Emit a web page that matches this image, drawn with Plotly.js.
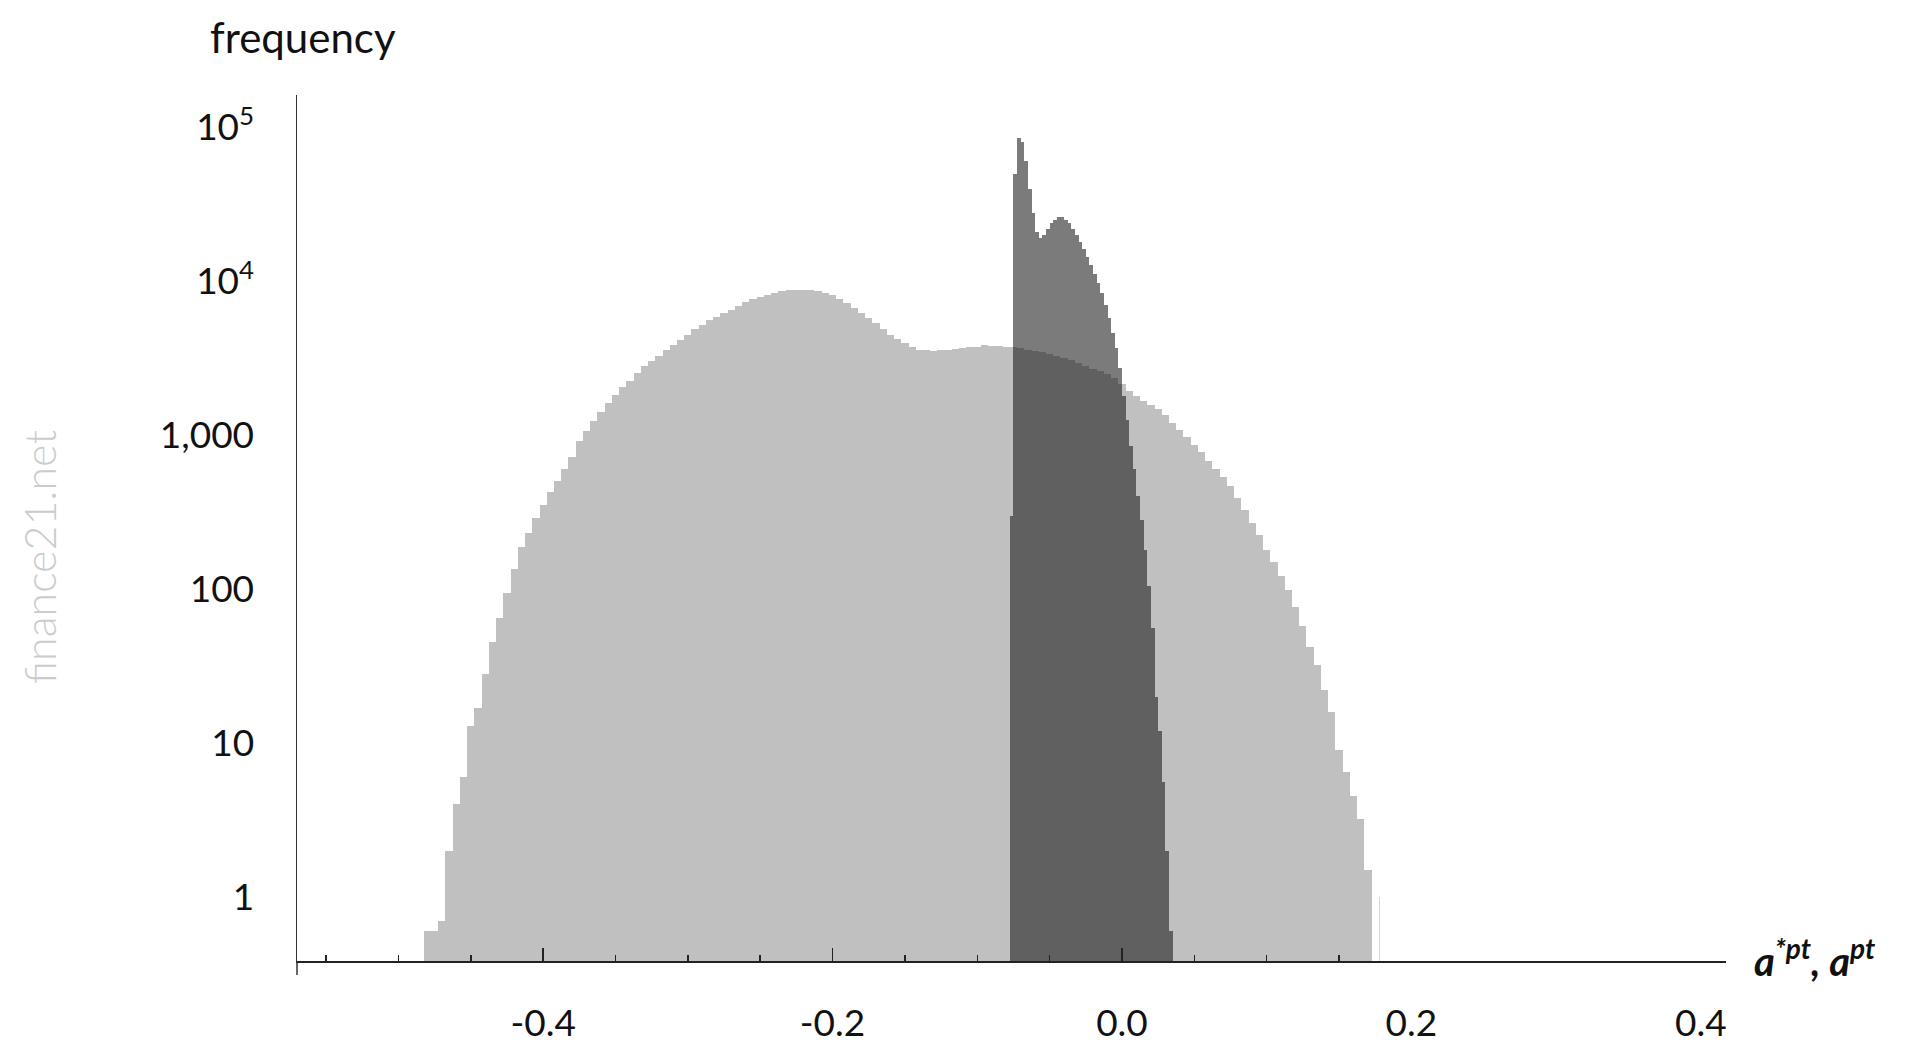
<!DOCTYPE html>
<html>
<head>
<meta charset="utf-8">
<script src="https://cdn.plot.ly/plotly-3.0.1.min.js"></script>
<style>html,body{margin:0;padding:0;background:#fff;}#chart{width:1919px;height:1043px;}</style>
</head>
<body>
<div id="chart"></div>
<script>
// ---- data ----
// light histogram (a*pt): bin centres and frequencies
const lightX = [-0.48,-0.475,-0.47,-0.465,-0.46,-0.455,-0.45,-0.445,-0.44,-0.435,-0.43,-0.425,-0.42,-0.415,-0.41,-0.405,-0.40,-0.395,-0.39,-0.385,-0.38,-0.375,-0.37,-0.365,-0.36,-0.355,-0.35,-0.345,-0.34,-0.335,-0.33,-0.325,-0.32,-0.315,-0.31,-0.305,-0.30,-0.295,-0.29,-0.285,-0.28,-0.275,-0.27,-0.265,-0.26,-0.255,-0.25,-0.245,-0.24,-0.235,-0.23,-0.225,-0.22,-0.215,-0.21,-0.205,-0.20,-0.195,-0.19,-0.185,-0.18,-0.175,-0.17,-0.165,-0.16,-0.155,-0.15,-0.145,-0.14,-0.135,-0.13,-0.125,-0.12,-0.115,-0.11,-0.105,-0.10,-0.095,-0.09,-0.085,-0.08,-0.075,-0.07,-0.065,-0.06,-0.055,-0.05,-0.045,-0.04,-0.035,-0.03,-0.025,-0.02,-0.015,-0.01,-0.005,0.0,0.005,0.01,0.015,0.02,0.025,0.03,0.035,0.04,0.045,0.05,0.055,0.06,0.065,0.07,0.075,0.08,0.085,0.09,0.095,0.10,0.105,0.11,0.115,0.12,0.125,0.13,0.135,0.14,0.145,0.15,0.155,0.16,0.165,0.17];
const lightY = [0.6,0.6,0.7,2,4,6,13,17,28,45,65,95,135,187,232,290,350,425,505,605,720,920,1070,1230,1410,1610,1820,2050,2260,2530,2800,3030,3280,3560,3840,4160,4500,4880,5230,5570,5880,6200,6550,6950,7320,7620,7900,8150,8420,8600,8760,8800,8820,8800,8650,8450,8100,7720,7250,6750,6250,5750,5320,4900,4500,4200,3950,3750,3600,3550,3520,3550,3600,3630,3670,3720,3760,3830,3820,3790,3760,3740,3680,3600,3520,3450,3350,3250,3170,3070,2950,2830,2710,2600,2480,2350,2150,1950,1800,1680,1580,1480,1350,1200,1080,970,860,775,680,600,535,470,390,325,270,225,180,150,122,98,76,58,42,32,22,16,9,6.5,4.5,3.2,1.5];
// isolated single counts beyond the light tail
const lightOutX = [0.178];
const lightOutY = [1];

// dark histogram (a^pt): bin left edges and frequencies
const darkX = [-0.0775,-0.075,-0.0725,-0.07,-0.0675,-0.065,-0.0625,-0.06,-0.0575,-0.055,-0.0525,-0.05,-0.0475,-0.045,-0.0425,-0.04,-0.0375,-0.035,-0.0325,-0.03,-0.0275,-0.025,-0.0225,-0.02,-0.0175,-0.015,-0.0125,-0.01,-0.0075,-0.005,-0.0025,0.0,0.0025,0.005,0.0075,0.01,0.0125,0.015,0.0175,0.02,0.0225,0.025,0.0275,0.03,0.0325];
const darkY = [300,50000,85000,80000,60000,40000,27700,21000,19000,20000,22000,24000,25000,26000,26000,25000,24000,22000,20000,18000,16300,14400,12700,11200,9700,8400,7000,5800,4600,3700,2750,1800,1250,850,600,400,280,180,105,56,20,12,5.6,2,0.6];

// axis ticks
const xLabelVals = [-0.4,-0.2,0.0,0.2,0.4];
const xLabelText = ['-0.4','-0.2','0.0','0.2','0.4'];
const xMajorTicks = [-0.4,-0.2,0.0];
const xMinorTicks = [-0.55,-0.5,-0.45,-0.35,-0.3,-0.25,-0.15,-0.1,-0.05,0.05,0.1,0.15];
const yTickVals = [1,10,100,1000,10000,100000];
const yTickText = ['1','10','100','1,000','10<sup>4</sup>','10<sup>5</sup>'];

const FONT = 'Lato, "Noto Sans", "DejaVu Sans", sans-serif';

const traces = [
  {type:'bar', x:lightX, y:lightY, width:0.005, marker:{color:'#c0c0c0', line:{width:0}}, hoverinfo:'skip', showlegend:false},
  {type:'bar', x:lightOutX, y:lightOutY, width:0.0009, marker:{color:'#d6d6d6', line:{width:0}}, hoverinfo:'skip', showlegend:false},
  {type:'bar', xaxis:'x2', x:darkX, y:darkY, width:0.0025, offset:0, marker:{color:'rgba(22,22,22,0.57)', line:{width:0}}, hoverinfo:'skip', showlegend:false}
];

const xr = [-0.5701, 0.4174];
const layout = {
  width:1919, height:1043,
  margin:{l:297, r:193, t:95, b:82},
  paper_bgcolor:'#ffffff', plot_bgcolor:'#ffffff',
  barmode:'overlay', bargap:0,
  font:{family:FONT, color:'#111'},
  xaxis:{
    range:xr, showgrid:false, zeroline:false,
    showline:true, linecolor:'#222', linewidth:1.5,
    tickmode:'array', tickvals:xLabelVals, ticktext:xLabelText,
    ticks:'', ticklabelstandoff:29,
    tickfont:{family:FONT, size:37, color:'#111'}
  },
  xaxis2:{
    range:xr, overlaying:'x', anchor:'y', side:'bottom',
    showgrid:false, zeroline:false, showline:false, showticklabels:false,
    tickmode:'array', tickvals:xMajorTicks, ticks:'inside', ticklen:13, tickwidth:1.5, tickcolor:'#222',
    minor:{tickmode:'array', tickvals:xMinorTicks, ticks:'inside', ticklen:6, tickwidth:1.5, tickcolor:'#222', showgrid:false}
  },
  yaxis:{
    type:'log', range:[-0.416, 5.21],
    showgrid:false, zeroline:false,
    showline:true, linecolor:'#333', linewidth:1.5,
    tickmode:'array', tickvals:yTickVals, ticktext:yTickText,
    ticks:'', ticklabelstandoff:34,
    tickfont:{family:FONT, size:37, color:'#111'}
  },
  shapes:[
    {type:'line', xref:'paper', yref:'paper', x0:0, x1:0, y0:0, y1:-0.0162, line:{color:'#333', width:1.5}}
  ],
  annotations:[
    {xref:'paper', yref:'paper', x:-0.0623, y:1.067, xanchor:'left', yanchor:'middle', showarrow:false,
     text:'frequency', font:{family:FONT, size:42, color:'#111'}},
    {xref:'paper', yref:'paper', x:1.018, y:0.004, xanchor:'left', yanchor:'middle', showarrow:false,
     text:'<b><i>a<sup>*pt</sup>, a<sup>pt</sup></i></b>', font:{family:FONT, size:40, color:'#111'}},
    {xref:'paper', yref:'paper', x:-0.1805, y:0.4665, xanchor:'center', yanchor:'middle', showarrow:false,
     textangle:-90, text:'finance21.net', font:{family:FONT, size:43, color:'#cccccc', weight:300}}
  ]
};

Plotly.newPlot('chart', traces, layout, {displayModeBar:false, staticPlot:true});
</script>
</body>
</html>
